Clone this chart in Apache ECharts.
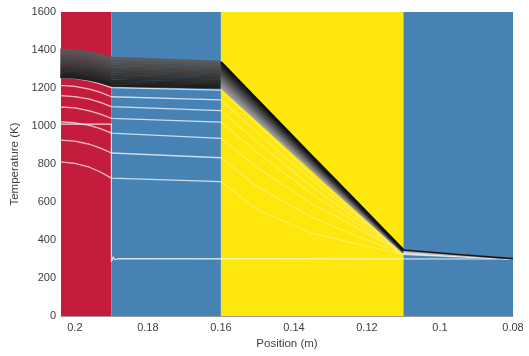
<!DOCTYPE html>
<html>
<head>
<meta charset="utf-8">
<script src="https://cdn.jsdelivr.net/npm/echarts@6/dist/echarts.min.js"></script>
<style>
  html, body { margin: 0; padding: 0; background: #fff; }
  #chart { width: 529px; height: 356px; }
</style>
</head>
<body>
<div id="chart"></div>
<script>
// material layers
const regionNames = ['Fuel', 'Steel', 'Inert salt', 'Steel'];
const regionFrom = [0.204, 0.19, 0.16, 0.11];
const regionTo = [0.19, 0.16, 0.11, 0.08];
const regionLabelT = 150;

// positions where each profile is sampled (m)
const XS = [0.204, 0.2, 0.196, 0.193, 0.19, 0.16, 0.15, 0.135, 0.125, 0.11, 0.095, 0.08];

// initial condition
const initX = [0.204, 0.19, 0.19, 0.1895, 0.189, 0.188, 0.08];
const initT = [1010, 1010, 285, 312, 296, 302, 300];

// early profiles (light)
const early1 = [811, 803, 783, 758, 726, 707, 558, 435, 390, 322, 311, 300];
const early2 = [926, 920, 904, 884, 858, 833, 680, 520, 440, 325, 312, 300];
const early3 = [1022, 1017, 1003, 986, 963, 935, 780, 590, 490, 328, 314, 300];
const early4 = [1100, 1095, 1080, 1063, 1040, 1020, 860, 640, 515, 330, 315, 300];
const early5 = [1160, 1155, 1141, 1124, 1102, 1081, 915, 680, 540, 331, 315, 300];
const early6 = [1214, 1209, 1194, 1177, 1154, 1137, 965, 715, 560, 332, 316, 300];
const early7 = [1255, 1251, 1238, 1222, 1202, 1189, 1010, 740, 575, 333, 316, 300];

// late profiles (dark band)
const late01 = [1258, 1255, 1245, 1232, 1214, 1203, 1029, 768, 594, 333, 316, 300];
const late02 = [1270, 1267, 1257, 1244, 1226, 1214, 1038, 774, 598, 334, 317, 300];
const late03 = [1282, 1279, 1270, 1257, 1238, 1226, 1048, 780, 602, 335, 317, 300];
const late04 = [1295, 1292, 1282, 1269, 1251, 1238, 1058, 787, 607, 336, 318, 300];
const late05 = [1307, 1304, 1294, 1281, 1263, 1250, 1067, 793, 611, 337, 318, 300];
const late06 = [1320, 1317, 1307, 1294, 1276, 1262, 1077, 800, 615, 338, 319, 300];
const late07 = [1333, 1330, 1320, 1307, 1289, 1274, 1087, 807, 620, 340, 320, 301];
const late08 = [1346, 1343, 1333, 1320, 1302, 1286, 1097, 813, 624, 341, 321, 301];
const late09 = [1360, 1357, 1346, 1333, 1316, 1299, 1108, 820, 629, 342, 321, 301];
const late10 = [1373, 1370, 1359, 1346, 1329, 1311, 1118, 827, 634, 344, 322, 302];
const late11 = [1387, 1384, 1373, 1360, 1343, 1324, 1128, 834, 639, 345, 323, 302];
const late12 = [1400, 1397, 1386, 1373, 1357, 1336, 1138, 841, 644, 347, 324, 302];

const earlyLines = [early1, early2, early3, early4, early5, early6, early7];
const lateLines = [late01, late02, late03, late04, late05, late06, late07, late08, late09, late10, late11, late12];

const regionColors = ['#C41C3C', '#4682B4', '#FDE70D', '#4682B4'];
const labelColors = ['#F4C9D2', '#D4E3F1', '#3b3510', '#D4E3F1'];
const fontFamily = '"Liberation Sans", Arial, sans-serif';

// indices of x = 0.16 and x = 0.11 in XS
const I16 = 5;
const I11 = 9;

const pairs = (xs, ts) => xs.map((x, i) => [x, ts[i]]);

const lineSeries = (data, color, width, z) => ({
  type: 'line',
  data: data,
  showSymbol: false,
  silent: true,
  z: z,
  lineStyle: { color: color, width: width },
});

const greyHex = (v) => {
  const h = Math.round(v).toString(16).padStart(2, '0');
  return '#' + h + h + h;
};

const series = [];

// background layers
series.push({
  type: 'line',
  data: [],
  silent: true,
  markArea: {
    silent: true,
    data: regionNames.map((name, i) => [
      { xAxis: regionFrom[i], itemStyle: { color: regionColors[i], opacity: 1 } },
      { xAxis: regionTo[i] },
    ]),
  },
});

// initial profile
series.push(lineSeries(pairs(initX, initT), 'rgba(255,255,255,0.8)', 1.2, 3));

// early profiles: fuel + steel, salt, outer steel
earlyLines.forEach((ts) => {
  const all = pairs(XS, ts);
  series.push(lineSeries(all.slice(0, I16 + 1), 'rgba(255,255,255,0.72)', 1.3, 3));
  series.push(lineSeries(all.slice(I16, I11 + 1), 'rgba(255,255,255,0.33)', 1.1, 3));
  series.push(lineSeries(all.slice(I11), 'rgba(255,255,255,0.5)', 1.1, 3));
});

// late profiles
const n = lateLines.length;
lateLines.slice().reverse().forEach((ts, j) => {
  const k = n - 1 - j;
  const all = pairs(XS, ts);
  series.push(lineSeries(all.slice(0, I16 + 1), greyHex(0x1e + (k / (n - 1)) * 0x3c), 2.6, 4));
});
lateLines.forEach((ts, k) => {
  const all = pairs(XS, ts);
  series.push(lineSeries(all.slice(I16, I11 + 1), greyHex(0xa0 - (k / (n - 1)) * 0x90), 2.3, 5));
  const outer = k === n - 1 ? '#151515' : greyHex(0xe6 - (k / (n - 1)) * 0x50);
  series.push(lineSeries(all.slice(I11), outer, k === n - 1 ? 1.6 : 1.2, k === n - 1 ? 6 : 5));
});

// layer names
series.push({
  type: 'scatter',
  silent: true,
  z: 7,
  symbolSize: 1,
  itemStyle: { opacity: 0 },
  data: regionNames.map((name, i) => ({
    value: [(regionFrom[i] + regionTo[i]) / 2, regionLabelT],
    name: name,
    label: { color: labelColors[i] },
  })),
  label: {
    show: true,
    position: 'inside',
    formatter: (p) => p.name,
    fontSize: 11,
    fontFamily: fontFamily,
  },
});

const chart = echarts.init(document.getElementById('chart'), null, { renderer: 'canvas' });
chart.setOption({
  animation: false,
  backgroundColor: '#fff',
  grid: { left: 61, right: 16, top: 12, bottom: 40, outerBoundsMode: 'none' },
  xAxis: {
    type: 'value',
    inverse: true,
    min: 0.08,
    max: 0.2038,
    interval: 0.02,
    name: 'Position (m)',
    nameLocation: 'middle',
    nameGap: 21,
    nameTextStyle: { color: '#404040', fontSize: 11.5, fontFamily: fontFamily },
    axisLine: { lineStyle: { color: '#9a9a9a' } },
    axisTick: { show: false },
    splitLine: { show: false },
    axisLabel: {
      color: '#404040',
      fontSize: 11,
      fontFamily: fontFamily,
      margin: 6,
      formatter: (v) => (Math.abs(Math.round(v / 0.02) * 0.02 - v) < 1e-6 ? String(+v.toFixed(2)) : ''),
    },
  },
  yAxis: {
    type: 'value',
    min: 0,
    max: 1600,
    interval: 200,
    name: 'Temperature (K)',
    nameLocation: 'middle',
    nameGap: 35,
    nameTextStyle: { color: '#404040', fontSize: 11.5, fontFamily: fontFamily },
    axisLine: { show: true, lineStyle: { color: '#9a9a9a' } },
    axisTick: { show: false },
    splitLine: { show: false },
    axisLabel: {
      color: '#404040',
      fontSize: 11,
      fontFamily: fontFamily,
      margin: 5,
      formatter: (v) => String(v),
    },
  },
  series: series,
});
</script>
</body>
</html>
